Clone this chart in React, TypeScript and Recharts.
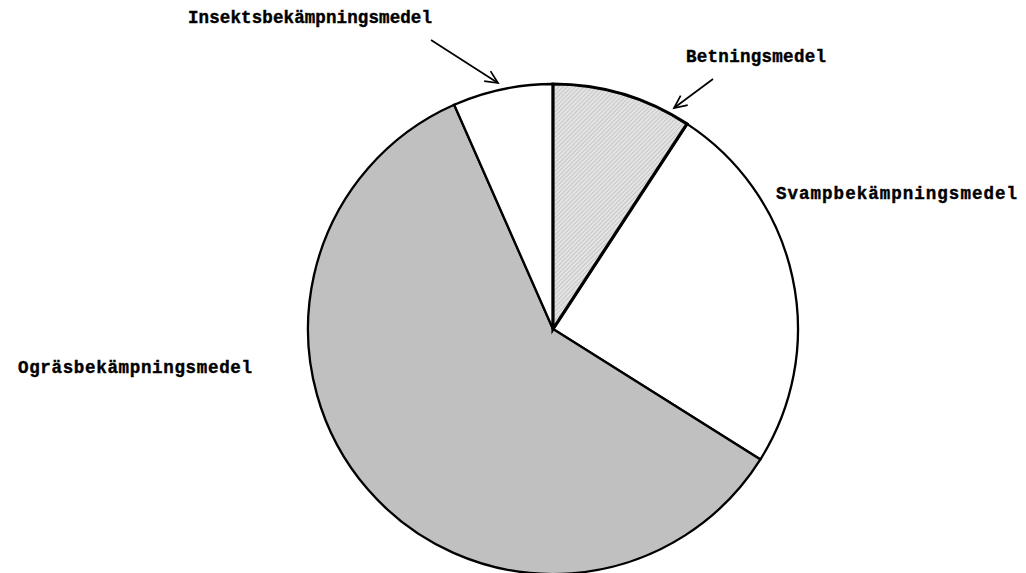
import React from 'react';
import { PieChart, Pie, Cell } from 'recharts';

const categories = [
  'Betningsmedel',
  'Svampbekämpningsmedel',
  'Ogräsbekämpningsmedel',
  'Insektsbekämpningsmedel',
];
const shares = [9.2, 24.7, 59.4, 6.6];
const fills = ['url(#hatch)', '#ffffff', '#c0c0c0', '#ffffff'];
const strokeWidths = [3.2, 2.3, 2.3, 2.3];

// label layout (text anchor x, baseline y, text width, optional arrow tail/tip)
const labelLayout: Record<string, { x: number; y: number; w: number; arrow?: [number, number, number, number] }> = {
  Betningsmedel: { x: 686, y: 62, w: 140, arrow: [713, 79, 674, 108] },
  Svampbekämpningsmedel: { x: 776, y: 199, w: 241 },
  Ogräsbekämpningsmedel: { x: 18, y: 373, w: 234 },
  Insektsbekämpningsmedel: { x: 188, y: 23, w: 244, arrow: [431, 40, 498, 83] },
};

const total = shares.reduce((a, b) => a + b, 0);
// draw the first slice last so its thicker outline stays on top
const order = [1, 2, 3, 0];
const data = order.map((i) => ({ name: categories[i], value: shares[i], fill: fills[i], sw: strokeWidths[i] }));
const startAngle = 90 - (shares[0] / total) * 360;

function Arrow({ a }: { a: [number, number, number, number] }) {
  const [x1, y1, x2, y2] = a;
  const ang = Math.atan2(y2 - y1, x2 - x1);
  const L = 14;
  const s = (25 * Math.PI) / 180;
  const p1 = [x2 - L * Math.cos(ang - s), y2 - L * Math.sin(ang - s)];
  const p2 = [x2 - L * Math.cos(ang + s), y2 - L * Math.sin(ang + s)];
  return (
    <g stroke="#000" strokeWidth={1.7} fill="none">
      <line x1={x1} y1={y1} x2={x2} y2={y2} />
      <polyline points={`${p1[0]},${p1[1]} ${x2},${y2} ${p2[0]},${p2[1]}`} />
    </g>
  );
}

const renderLabel = (props: any) => {
  const cfg = labelLayout[props.name];
  if (!cfg) return null;
  return (
    <g>
      <text
        x={cfg.x}
        y={cfg.y}
        textLength={cfg.w}
        lengthAdjust="spacing"
        fontFamily="'Liberation Mono', 'Courier New', monospace"
        fontWeight="bold"
        fontSize={17.5}
        stroke="#000"
        strokeWidth={0.4}
        fill="#000"
        textAnchor="start"
      >
        {props.name}
      </text>
      {cfg.arrow && <Arrow a={cfg.arrow} />}
    </g>
  );
};

export default function App() {
  return (
    <div style={{ position: 'absolute', left: 0, top: 0, width: 1026, height: 573, background: '#fff' }}>
      <svg width={0} height={0} style={{ position: 'absolute' }}>
        <defs>
          <pattern id="hatch" patternUnits="userSpaceOnUse" width={3} height={3} patternTransform="rotate(45)">
            <rect width={3} height={3} fill="#e4e4e4" />
            <line x1={0} y1={0} x2={0} y2={3} stroke="#b4b4b4" strokeWidth={1.2} />
          </pattern>
        </defs>
      </svg>
      <PieChart width={1026} height={573} margin={{ top: 0, right: 0, bottom: 0, left: 0 }}>
        <Pie
          data={data}
          dataKey="value"
          nameKey="name"
          cx={553}
          cy={329}
          outerRadius={245}
          innerRadius={0}
          startAngle={startAngle}
          endAngle={startAngle - 360}
          isAnimationActive={false}
          label={renderLabel}
          labelLine={false}
        >
          {data.map((d, i) => (
            <Cell key={i} fill={d.fill} stroke="#000" strokeWidth={d.sw} />
          ))}
        </Pie>
      </PieChart>
    </div>
  );
}
